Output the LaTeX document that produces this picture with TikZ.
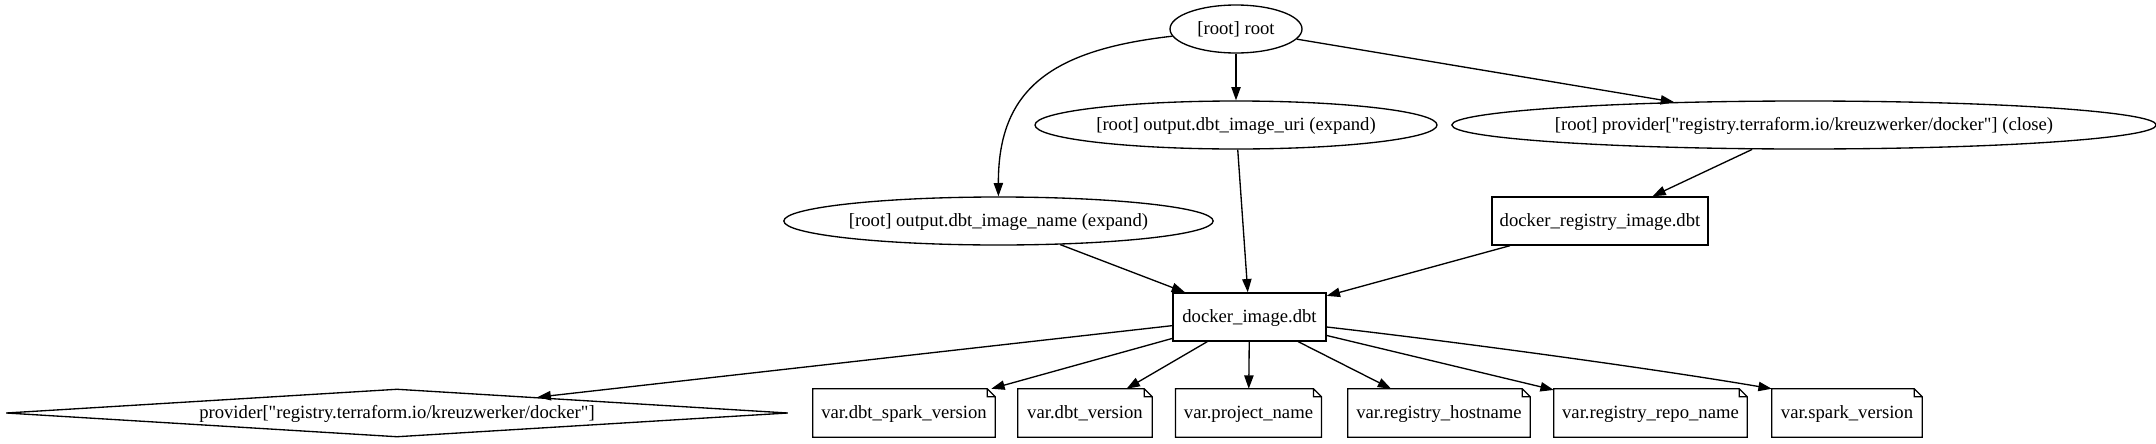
\documentclass[tikz,border=0pt]{standalone}
\usepackage{fontspec}
\setmainfont{Liberation Serif}[Ligatures=TeXOff]
\usetikzlibrary{shapes.geometric,arrows.meta}
\begin{document}
\begin{tikzpicture}[x=0.75pt,y=-0.75pt,
  every node/.style={font=\fontsize{14}{16}\selectfont, inner sep=0pt, text height=10.5pt, text depth=2.1pt},
  ell/.style={draw, ellipse, line width=1pt, minimum height=36pt, minimum width=#1},
  box/.style={draw, rectangle, line width=1pt, minimum height=36pt, minimum width=#1},
  notebox/.style={rectangle, minimum height=36pt, minimum width=#1},
  dia/.style={draw, diamond, shape aspect=16.3, line width=1pt, minimum height=36pt, minimum width=#1},
  edge/.style={line width=1pt, -{Triangle[length=10pt,width=7pt]}},
  noteline/.style={line width=1pt}
]
\useasboundingbox[fill=white] (0,0) rectangle (2156,443);

\node[ell=99pt] (root) at (1236,29) {[root] root};
\node[ell=301.5pt] (uri) at (1236,125) {[root] output.dbt\_image\_uri (expand)};
\node[ell=520.5pt] (prov) at (1804,125) {[root] provider["registry.terraform.io/kreuzwerker/docker"] (close)};
\node[ell=322pt] (name) at (998.5,221) {[root] output.dbt\_image\_name (expand)};
\node[box=162pt] (reg) at (1600,221) {docker\_registry\_image.dbt};
\node[box=114.75pt] (dimg) at (1249.5,317) {docker\_image.dbt};
\node[dia=586.5pt] (pdock) at (397,413) {provider["registry.terraform.io/kreuzwerker/docker"]};
\node[notebox=136.5pt] (v1) at (904,413) {var.dbt\_spark\_version};
\node[notebox=100.5pt] (v2) at (1085,413) {var.dbt\_version};
\node[notebox=109pt] (v3) at (1248.5,413) {var.project\_name};
\node[notebox=136.5pt] (v4) at (1439,413) {var.registry\_hostname};
\node[notebox=144.75pt] (v5) at (1650.5,413) {var.registry\_repo\_name};
\node[notebox=112.5pt] (v6) at (1847,413) {var.spark\_version};

\foreach \n in {v1,v2,v3,v4,v5,v6}{
  \draw[noteline] (\n.north west) -- ([xshift=-6pt]\n.north east) -- ([yshift=-6pt]\n.north east)
    -- (\n.south east) -- (\n.south west) -- cycle
    ([xshift=-6pt]\n.north east) |- ([yshift=-6pt]\n.north east);
}

\draw[edge] (root) -- (uri);
\draw[edge] (root) -- (prov.170);
\draw[edge] (root) .. controls (1050,50) and (998,90) .. (name);
\draw[edge] (uri) -- (dimg);
\draw[edge] (name) -- (dimg);
\draw[edge] (prov) -- (reg);
\draw[edge] (reg) -- (dimg);
\draw[edge] (dimg) -- (pdock);
\draw[edge] (dimg) -- (v1);
\draw[edge] (dimg) -- (v2);
\draw[edge] (dimg) -- (v3);
\draw[edge] (dimg) -- (v4);
\draw[edge] (dimg) -- (v5);
\draw[edge] ([yshift=-7.5pt]dimg.east) .. controls (1450,341) and (1650,368) .. (v6.north west);
\end{tikzpicture}
\end{document}
